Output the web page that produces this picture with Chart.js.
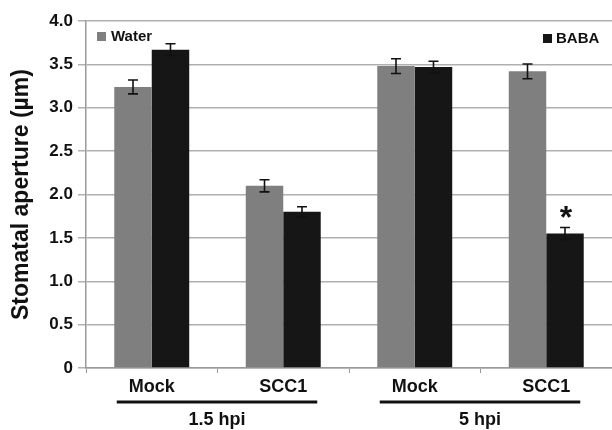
<!DOCTYPE html>
<html>
<head>
<meta charset="utf-8">
<script src="https://cdn.jsdelivr.net/npm/chart.js@4.4.1/dist/chart.umd.min.js"></script>
<style>
  html, body { margin: 0; padding: 0; background: #fff; }
  #wrap { width: 612px; height: 430px; position: relative; }
</style>
</head>
<body>
<div id="wrap"><canvas id="stomataChart"></canvas></div>
<script>
// Data
const categories = ['Mock', 'SCC1', 'Mock', 'SCC1'];
const groups = ['1.5 hpi', '5 hpi'];
const waterMeans = [3.24, 2.10, 3.48, 3.42];
const waterErr = [0.08, 0.07, 0.085, 0.085];
const babaMeans = [3.67, 1.80, 3.47, 1.55];
const babaErr = [0.068, 0.058, 0.066, 0.07];
const babaSignif = ['', '', '', '*'];

const FONT = "'Liberation Sans', Arial, sans-serif";
const waterColor = '#7f7f7f';
const babaColor = '#161616';

// error bars, significance star, legend and group brackets
const extrasPlugin = {
    id: 'extras',
    afterDatasetsDraw(chart) {
        const ctx = chart.ctx;
        const yScale = chart.scales.y;
        const errs = [waterErr, babaErr];
        ctx.save();
        ctx.strokeStyle = '#111';
        ctx.lineWidth = 1.6;
        chart.data.datasets.forEach((ds, di) => {
            const meta = chart.getDatasetMeta(di);
            meta.data.forEach((bar, i) => {
                const v = ds.data[i];
                const e = errs[di][i];
                const yTop = yScale.getPixelForValue(v + e);
                const yBot = yScale.getPixelForValue(v - e);
                ctx.beginPath();
                ctx.moveTo(bar.x, yTop);
                ctx.lineTo(bar.x, yBot);
                ctx.moveTo(bar.x - 5, yTop);
                ctx.lineTo(bar.x + 5, yTop);
                ctx.moveTo(bar.x - 5, yBot);
                ctx.lineTo(bar.x + 5, yBot);
                ctx.stroke();
                if (di === 1 && babaSignif[i]) {
                    ctx.fillStyle = '#111';
                    ctx.font = 'bold 32px ' + FONT;
                    ctx.textAlign = 'center';
                    ctx.textBaseline = 'alphabetic';
                    ctx.fillText(babaSignif[i], bar.x + 1, yTop + 1);
                }
            });
        });
        ctx.restore();
    },
    afterDraw(chart) {
        const ctx = chart.ctx;
        const xScale = chart.scales.x;
        ctx.save();
        // legend items: Water top-left, BABA top-right
        ctx.font = 'bold 15px ' + FONT;
        ctx.textBaseline = 'middle';
        ctx.textAlign = 'left';
        ctx.fillStyle = waterColor;
        ctx.fillRect(97, 32, 9, 9);
        ctx.fillStyle = '#111';
        ctx.fillText(chart.data.datasets[0].label, 111, 37);
        ctx.fillStyle = babaColor;
        ctx.fillRect(543, 34, 9, 9);
        ctx.fillStyle = '#111';
        ctx.fillText(chart.data.datasets[1].label, 556, 39);

        // group brackets under the category labels
        ctx.strokeStyle = '#111';
        ctx.lineWidth = 3;
        ctx.font = 'bold 18px ' + FONT;
        ctx.textAlign = 'center';
        groups.forEach((g, gi) => {
            const x0 = xScale.getPixelForValue(gi * 2) - 35;
            const x1 = xScale.getPixelForValue(gi * 2 + 1) + 34;
            ctx.beginPath();
            ctx.moveTo(x0, 402);
            ctx.lineTo(x1, 402);
            ctx.stroke();
            ctx.fillText(g, (x0 + x1) / 2, 420);
        });
        ctx.restore();
    }
};

new Chart(document.getElementById('stomataChart'), {
    type: 'bar',
    data: {
        labels: categories,
        datasets: [
            { label: 'Water', data: waterMeans, backgroundColor: waterColor, borderWidth: 0 },
            { label: 'BABA', data: babaMeans, backgroundColor: babaColor, borderWidth: 0 }
        ]
    },
    options: {
        responsive: true,
        maintainAspectRatio: false,
        animation: false,
        layout: { padding: { top: 21, right: 0, bottom: 0, left: 0 } },
        datasets: { bar: { categoryPercentage: 0.57, barPercentage: 1.0 } },
        plugins: {
            legend: { display: false },
            tooltip: { enabled: false }
        },
        scales: {
            x: {
                grid: { offset: true, drawOnChartArea: false, tickLength: 5, color: '#9a9a9a' },
                border: { color: '#9a9a9a', width: 1.5 },
                ticks: { color: '#111', padding: 3, font: { family: FONT, size: 18, weight: 'bold' } },
                afterFit(scale) { scale.height = 62; }
            },
            y: {
                min: 0,
                max: 4,
                ticks: {
                    stepSize: 0.5,
                    color: '#111',
                    padding: 5,
                    font: { family: FONT, size: 17, weight: 'bold' },
                    callback: v => v === 0 ? '0' : v.toFixed(1)
                },
                grid: { color: '#b0b0b0', lineWidth: 1.5, tickLength: 8 },
                border: { color: '#9a9a9a', width: 1.5 },
                title: {
                    display: true,
                    text: 'Stomatal aperture (µm)',
                    color: '#111',
                    padding: { top: 8, bottom: 0 },
                    font: { family: FONT, size: 23, weight: 'bold' }
                },
                afterFit(scale) { scale.width = 86; }
            }
        }
    },
    plugins: [extrasPlugin]
});
</script>
</body>
</html>
